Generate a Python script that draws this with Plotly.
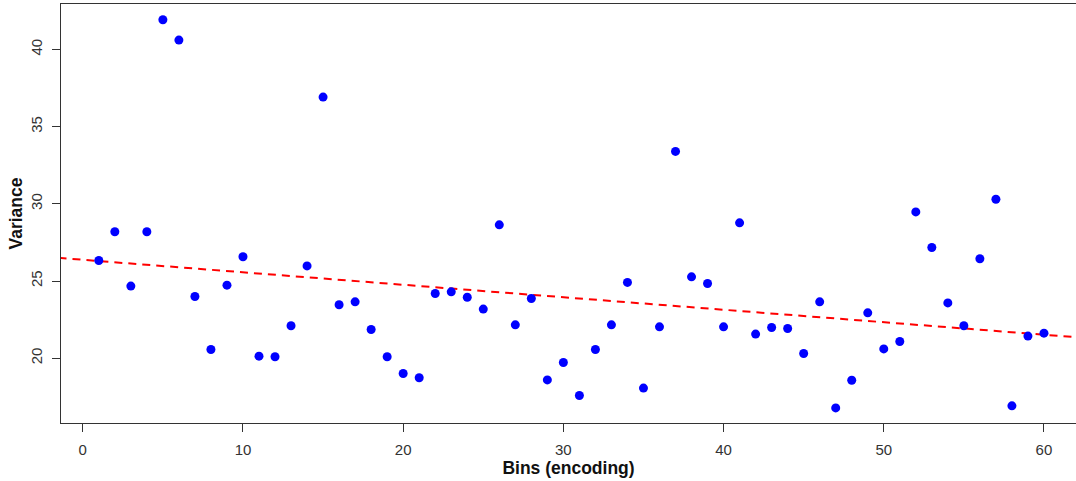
import numpy as np
import plotly.graph_objects as go

# Variance per encoding bin
bins = list(range(1, 61))
variance = [
    26.33, 28.19, 24.67, 28.19, 41.93, 40.61, 24.00, 20.56, 24.73, 26.57,
    20.13, 20.09, 22.10, 25.98, 36.92, 23.46, 23.65, 21.86, 20.09, 19.01,
    18.73, 24.19, 24.30, 23.95, 23.18, 28.64, 22.16, 23.87, 18.59, 19.72,
    17.58, 20.56, 22.16, 24.91, 18.06, 22.03, 33.40, 25.27, 24.84, 22.03,
    28.77, 21.56, 21.99, 21.92, 20.30, 23.65, 16.78, 18.57, 22.94, 20.60,
    21.08, 29.48, 27.17, 23.58, 22.10, 26.44, 30.30, 16.91, 21.43, 21.62,
]
x_ticks = [0, 10, 20, 30, 40, 50, 60]
y_ticks = [20, 25, 30, 35, 40]

# Linear fit (least squares), drawn across the full axis span
slope, intercept = np.polyfit(bins, variance, 1)
xr = [-1.36, 62.0]
fit_x = np.array([-5, 70])
fit_y = intercept + slope * fit_x

fig = go.Figure()
fig.add_trace(go.Scatter(
    x=fit_x, y=fit_y, mode="lines",
    line=dict(color="#ff0000", width=2, dash="8px,6px"),
    hoverinfo="skip", showlegend=False,
))
fig.add_trace(go.Scatter(
    x=bins, y=variance, mode="markers",
    marker=dict(color="#0000ff", size=9, line=dict(width=0)),
    showlegend=False,
))

axis_font = dict(family="Liberation Sans, Arial, sans-serif", size=15, color="#333333")
title_font = dict(family="Liberation Sans, Arial, sans-serif", size=17.5, color="#111111")

fig.update_layout(
    width=1076, height=481,
    margin=dict(l=61, r=0, t=4, b=58),
    paper_bgcolor="white", plot_bgcolor="white",
    xaxis=dict(
        range=xr, tickvals=x_ticks, ticktext=[str(v) for v in x_ticks],
        showgrid=False, zeroline=False,
        showline=True, mirror=True, linecolor="#333333", linewidth=1,
        ticks="outside", ticklen=8, tickcolor="#333333",
        tickfont=axis_font, ticklabelstandoff=5,
        title=dict(text="<b>Bins (encoding)</b>", font=title_font, standoff=0),
    ),
    yaxis=dict(
        range=[15.8, 42.95], tickvals=y_ticks, ticktext=[str(v) for v in y_ticks],
        showgrid=False, zeroline=False,
        showline=True, linecolor="#333333", linewidth=1,
        ticks="outside", ticklen=8, tickcolor="#333333",
        tickangle=-90, tickfont=axis_font, ticklabelstandoff=4,
        title=dict(text="<b>Variance</b>", font=title_font, standoff=0),
    ),
)

fig.write_html("out.html")
